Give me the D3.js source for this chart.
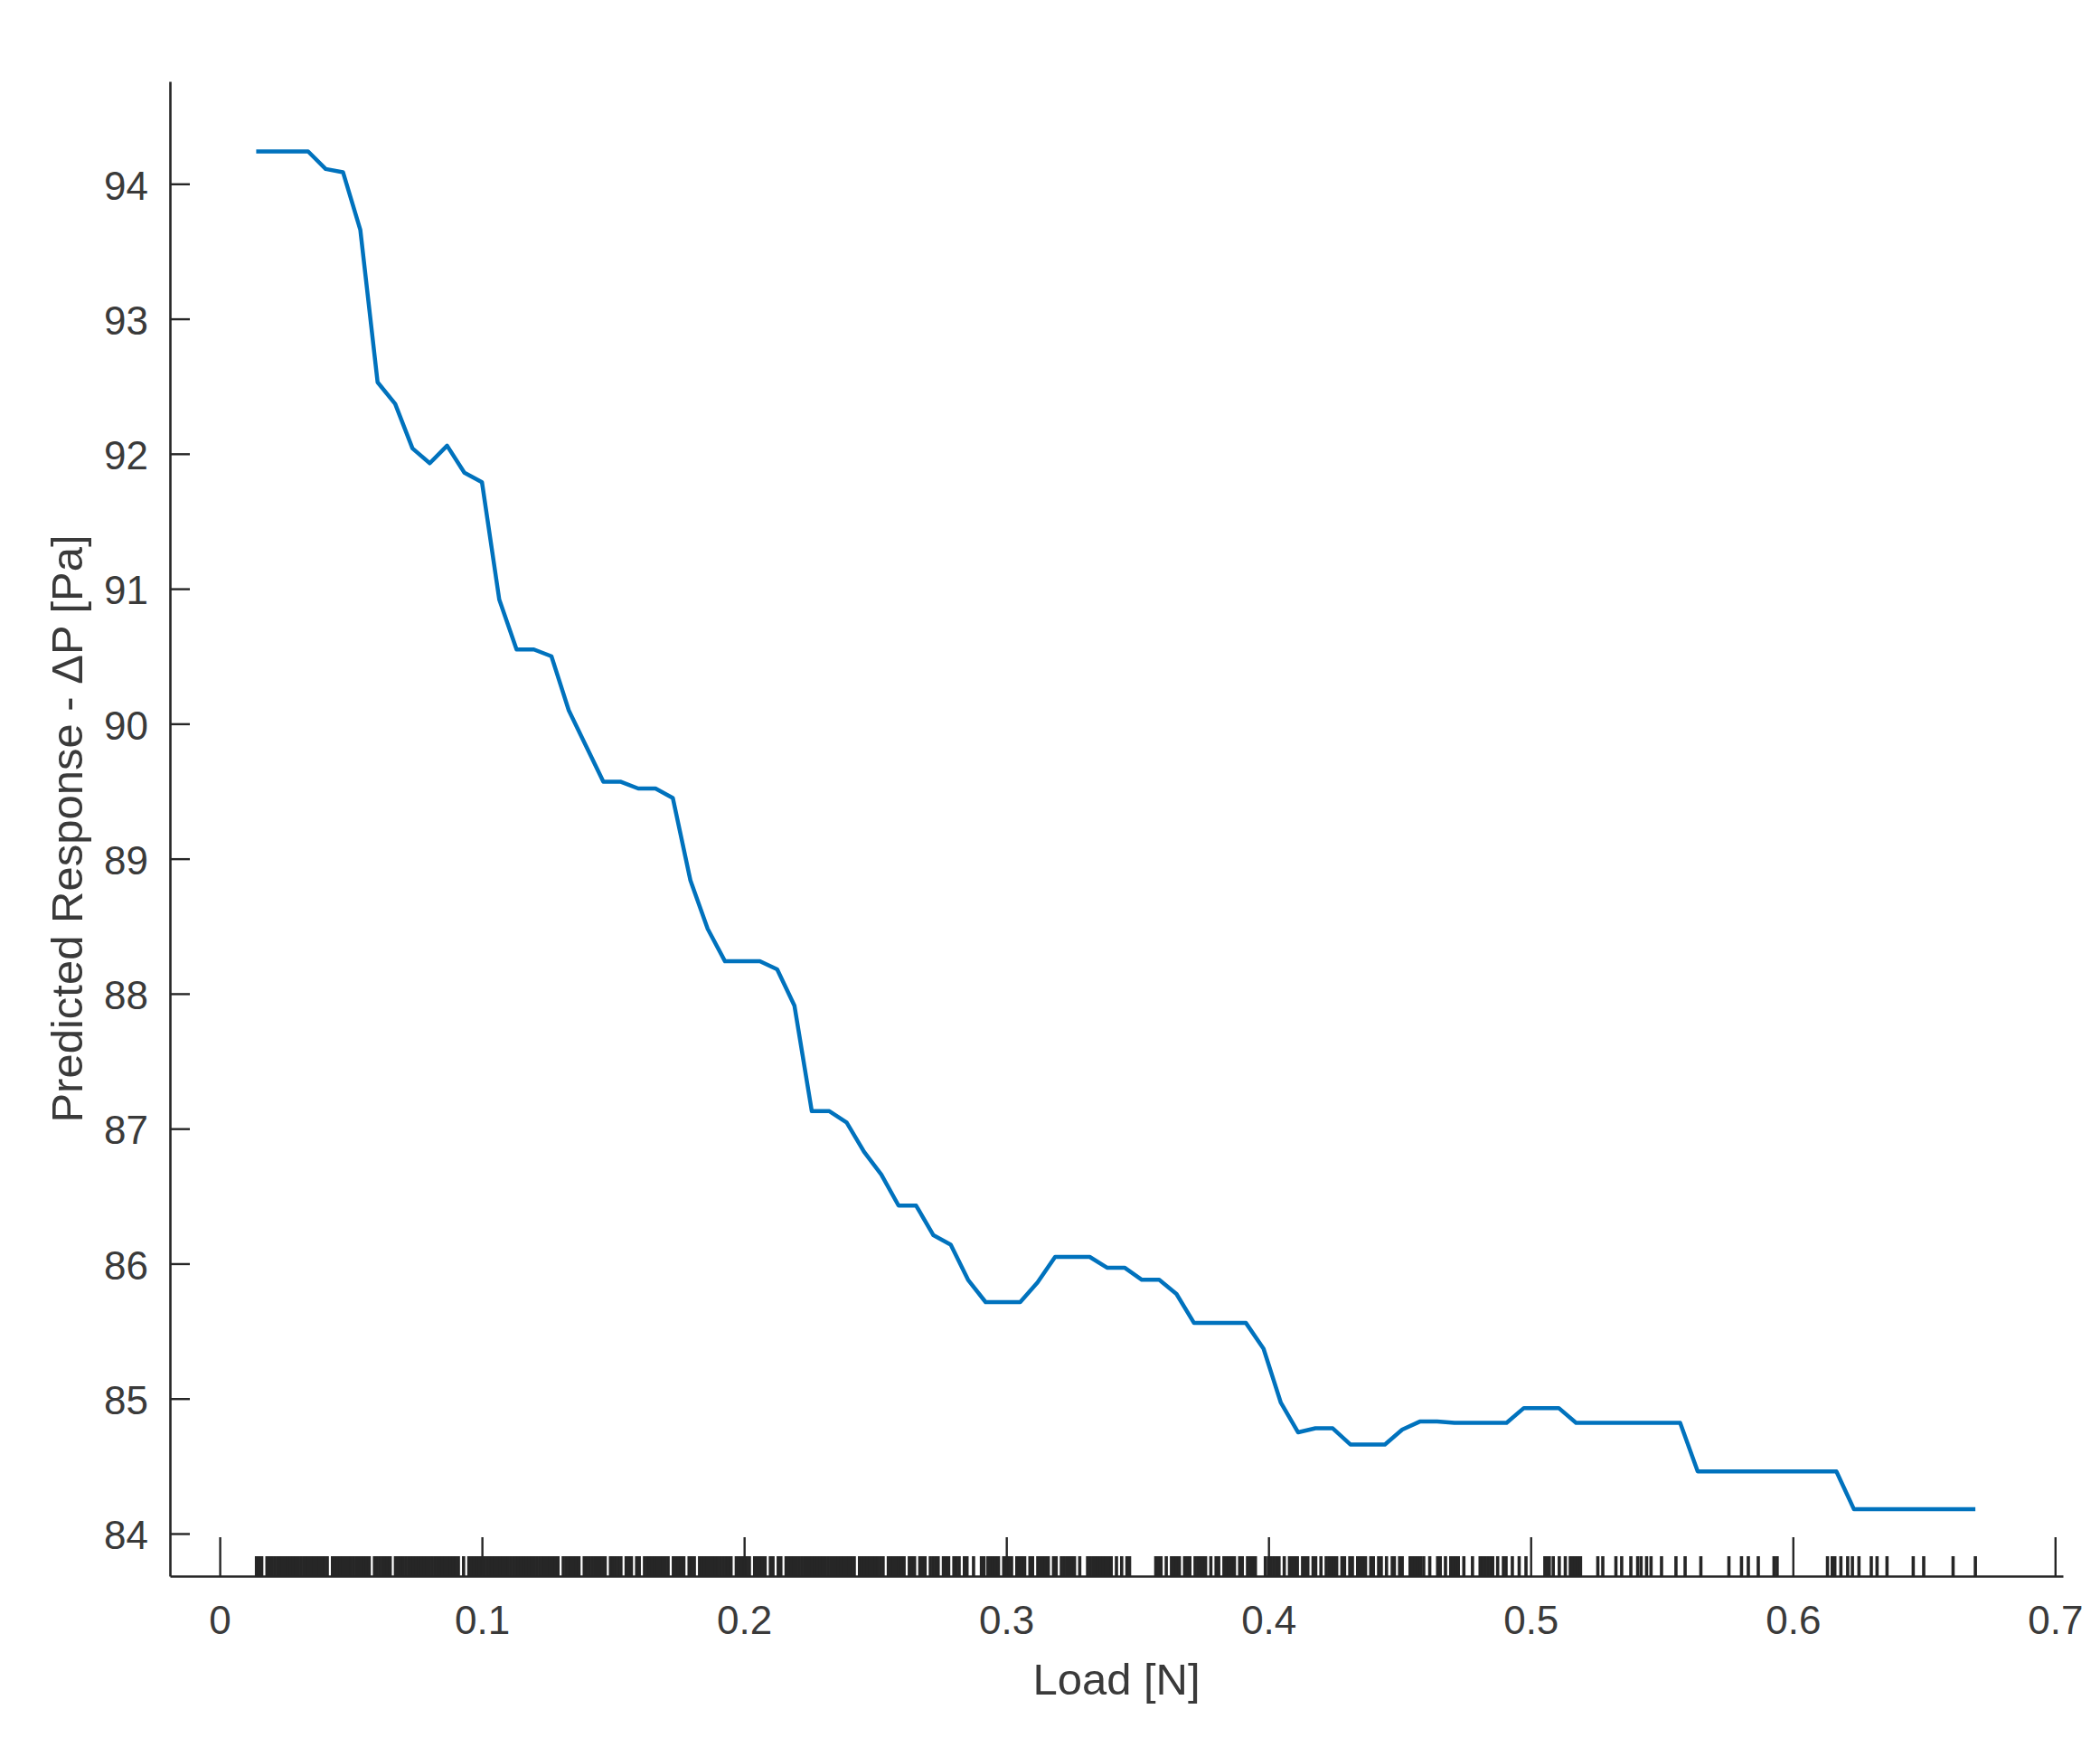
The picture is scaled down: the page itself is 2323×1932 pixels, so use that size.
<!DOCTYPE html>
<html><head><meta charset="utf-8">
<script src="https://cdn.jsdelivr.net/npm/d3@7"></script>
<style>html,body{margin:0;padding:0;background:#fff;} svg{display:block;}</style>
</head><body>
<svg id="chart" width="2323" height="1932"></svg>
<script>
// Partial dependence grid (Load [N]) and predicted response (ΔP [Pa])
const loadN = [0.0139,0.0205,0.0271,0.0337,0.0404,0.0470,0.0536,0.0602,0.0669,0.0735,
0.0801,0.0867,0.0933,0.1000,0.1066,0.1132,0.1198,0.1265,0.1331,0.1397,
0.1463,0.1530,0.1596,0.1662,0.1728,0.1795,0.1861,0.1927,0.1993,0.2060,
0.2126,0.2192,0.2258,0.2325,0.2391,0.2457,0.2523,0.2589,0.2656,0.2722,
0.2788,0.2854,0.2921,0.2987,0.3053,0.3119,0.3186,0.3252,0.3318,0.3384,
0.3451,0.3517,0.3583,0.3649,0.3716,0.3782,0.3848,0.3914,0.3981,0.4047,
0.4113,0.4179,0.4245,0.4312,0.4378,0.4444,0.4510,0.4577,0.4643,0.4709,
0.4775,0.4842,0.4908,0.4974,0.5040,0.5107,0.5173,0.5239,0.5305,0.5372,
0.5438,0.5504,0.5570,0.5637,0.5703,0.5769,0.5835,0.5901,0.5968,0.6034,
0.6100,0.6166,0.6233,0.6299,0.6365,0.6431,0.6498,0.6564,0.6630,0.6696];

const deltaP = [94.24,94.24,94.24,94.24,94.11,94.086,93.66,92.53,92.37,92.04,
91.93,92.06,91.86,91.79,90.92,90.55,90.55,90.50,90.10,89.835,
89.57,89.57,89.52,89.52,89.45,88.84,88.48,88.24,88.24,88.24,
88.18,87.91,87.13,87.13,87.045,86.83,86.66,86.43,86.43,86.21,
86.14,85.88,85.715,85.715,85.715,85.86,86.05,86.05,86.05,85.97,
85.97,85.88,85.88,85.775,85.56,85.56,85.56,85.56,85.37,84.97,
84.75,84.78,84.78,84.66,84.66,84.66,84.77,84.83,84.83,84.82,
84.82,84.82,84.82,84.93,84.93,84.93,84.82,84.82,84.82,84.82,
84.82,84.82,84.82,84.46,84.46,84.46,84.46,84.46,84.46,84.46,
84.46,84.46,84.18,84.18,84.18,84.18,84.18,84.18,84.18,84.18];

// Observed Load values (rug)
const rugLoad = [
0.014,0.015,0.016,0.018,0.019,0.020,0.021,0.022,0.023,0.024,0.025,0.026,0.027,0.028,0.029,0.030,0.031,0.032,0.033,0.034,0.035,0.036,0.037,0.038,0.039,0.040,0.041,
0.043,0.044,0.045,0.046,0.047,0.048,0.049,0.050,0.051,0.052,0.053,0.054,0.055,0.056,0.057,
0.059,0.060,0.061,0.062,0.063,0.064,0.065,
0.067,0.068,0.069,0.070,0.071,0.072,0.073,0.074,0.075,0.076,0.077,0.078,0.079,0.080,0.081,0.082,0.083,0.084,0.085,0.086,0.087,0.088,0.089,0.090,0.091,
0.093,
0.095,0.096,0.097,0.098,0.099,0.100,0.101,0.102,0.103,0.104,0.105,0.106,0.107,0.108,0.109,0.110,0.111,0.112,0.113,0.114,0.115,0.116,0.117,0.118,0.119,0.120,0.121,0.122,0.123,0.124,0.125,0.126,0.127,0.128,0.129,
0.131,0.132,0.133,0.134,0.135,0.136,0.137,
0.139,0.140,0.141,0.142,0.143,0.144,0.145,0.146,0.147,
0.149,0.150,0.151,0.152,0.153,
0.155,0.156,0.157,
0.159,0.160,
0.162,0.163,0.164,0.165,0.166,0.167,0.168,0.169,0.170,0.171,
0.173,0.174,0.175,0.176,0.177,
0.179,0.180,0.181,
0.183,0.184,0.185,0.186,0.187,0.188,0.189,0.190,0.191,0.192,0.193,0.194,0.195,
0.197,0.198,0.199,0.200,0.201,0.202,
0.204,0.205,0.206,0.207,0.208,
0.210,0.211,
0.213,0.214,
0.216,0.217,0.218,0.219,0.220,0.221,0.222,0.223,0.224,0.225,0.226,0.227,0.228,0.229,0.230,
0.231,0.232,0.233,0.234,0.235,0.236,0.237,0.238,0.239,0.240,0.241,0.242,
0.244,0.245,0.246,0.247,0.248,0.249,0.250,0.251,0.252,0.253,
0.255,0.256,0.257,0.258,0.259,0.260,0.261,
0.263,0.264,0.265,
0.267,0.268,0.269,
0.271,0.272,0.273,0.274,
0.276,0.277,0.278,
0.280,0.281,0.282,
0.284,0.285,
0.2875,
0.2905,0.2915,
0.293,0.294,0.295,0.296,0.297,
0.299,0.300,0.301,0.302,
0.304,0.305,0.306,0.307,
0.309,0.310,
0.312,0.313,0.314,0.315,0.316,
0.318,0.319,
0.321,0.322,0.323,0.324,0.325,0.326,
0.328,
0.331,0.332,0.333,0.334,0.335,0.336,0.337,0.338,0.339,0.340,
0.342,0.344,0.346,0.347,
0.357,0.358,0.359,
0.361,
0.363,0.364,0.365,0.366,
0.368,0.369,0.370,
0.372,0.373,0.374,0.375,0.376,
0.378,
0.380,0.381,
0.383,0.384,0.385,0.386,0.387,
0.389,0.390,
0.392,0.393,0.394,0.395,
0.3988,0.400,0.401,0.402,0.403,0.404,
0.406,
0.408,0.409,0.410,0.411,
0.413,0.414,0.415,
0.417,0.418,
0.420,
0.422,0.423,0.424,0.425,0.426,
0.428,0.429,
0.431,0.432,
0.434,0.435,0.436,0.437,
0.439,0.440,
0.442,0.443,
0.445,
0.4472,0.4480,0.4500,0.4510,0.4540,0.4550,0.4560,0.4570,0.4580,0.4592,0.4615,0.4645,0.4655,0.4675,
0.4695,0.4705,0.4715,0.4724,0.4745,0.4778,0.4807,0.4817,0.4827,0.4837,0.4847,0.4855,0.4874,0.4896,
0.4906,0.4930,0.4956,0.4982,0.5054,0.5063,0.5071,0.5086,0.5109,0.5132,0.5151,0.5160,0.5170,0.5180,
0.5190,0.5256,0.5275,0.5325,0.5347,0.5382,0.5408,0.5421,0.5442,0.5459,0.5499,0.5554,0.5589,0.5649,
0.5756,0.5804,0.5830,0.5868,0.5928,0.5940,0.6132,0.6150,0.6160,0.6183,0.6209,0.6227,0.6252,0.6299,
0.6321,0.6359,0.6459,0.6499,0.6611,0.6696];

const xTicks = [0,0.1,0.2,0.3,0.4,0.5,0.6,0.7];
const yTicks = [84,85,86,87,88,89,90,91,92,93,94];
const xLabel = "Load [N]";
const yLabel = "Predicted Response - \u0394P [Pa]";

const FONT = "'Liberation Sans', Arial, Helvetica, sans-serif";
const AXIS = "#262626";
const TEXT = "#3a3a3a";

const svg = d3.select("#chart");
svg.append("rect").attr("width", 2323).attr("height", 1932).attr("fill", "#fff");

const x = d3.scaleLinear().domain([-0.019, 0.703]).range([188, 2282]);
const y = d3.scaleLinear().domain([83.685, 94.759]).range([1743, 90]);

// rug
svg.append("g").selectAll("line").data(rugLoad).join("line")
  .attr("x1", d => x(d)).attr("x2", d => x(d))
  .attr("y1", y.range()[0] - 22).attr("y2", y.range()[0])
  .attr("stroke", AXIS).attr("stroke-width", 3.6);

// line
const line = d3.line().x((d, i) => x(loadN[i])).y(d => y(d));
svg.append("path").datum(deltaP)
  .attr("d", line)
  .attr("fill", "none")
  .attr("stroke", "#0072BD")
  .attr("stroke-width", 4.5)
  .attr("stroke-linejoin", "round");

// axes
const gx = svg.append("g").attr("transform", `translate(0,${y.range()[0]})`)
  .call(d3.axisBottom(x).tickValues(xTicks).tickFormat(d => String(d))
    .tickSizeInner(-43).tickSizeOuter(0).tickPadding(33));
const gy = svg.append("g").attr("transform", `translate(${x.range()[0]},0)`)
  .call(d3.axisLeft(y).tickValues(yTicks).tickFormat(d => String(d))
    .tickSizeInner(-22).tickSizeOuter(0).tickPadding(24));

[gx, gy].forEach(g => {
  g.select(".domain").attr("stroke", AXIS).attr("stroke-width", 2.6);
  g.selectAll(".tick line").attr("stroke", AXIS).attr("stroke-width", 2.4);
  g.selectAll(".tick text").attr("fill", TEXT).style("font-family", FONT).style("font-size", "44px");
});
gy.selectAll(".tick text").attr("dy", "0.38em");

// axis labels
svg.append("text")
  .attr("x", (x.range()[0] + x.range()[1]) / 2).attr("y", 1874)
  .attr("text-anchor", "middle")
  .attr("fill", TEXT).style("font-family", FONT).style("font-size", "49px")
  .text(xLabel);

svg.append("text")
  .attr("transform", `translate(91,${(y.range()[0] + y.range()[1]) / 2}) rotate(-90)`)
  .attr("text-anchor", "middle")
  .attr("fill", TEXT).style("font-family", FONT).style("font-size", "49px")
  .text(yLabel);
</script>
</body></html>
